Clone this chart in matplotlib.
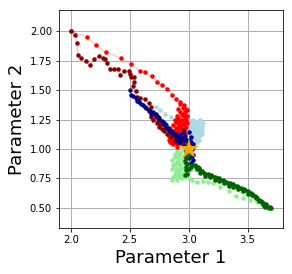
import matplotlib
matplotlib.use("Agg")
import matplotlib.pyplot as plt

# trajectories (parameter 1, parameter 2)
red_x = [2.00, 2.14, 2.21, 2.30, 2.43, 2.51, 2.59, 2.63, 2.69, 2.73, 2.77, 2.82, 2.86, 2.89,
         2.93, 2.95, 2.99, 2.96, 2.93, 2.90, 2.94, 2.97, 2.99, 2.95, 2.91, 2.88, 2.87, 2.90,
         2.93, 2.96, 2.98, 2.92, 2.88, 2.85, 2.83, 2.86, 2.89, 2.92, 2.95, 2.97, 2.94, 2.90,
         2.87, 2.84, 2.88, 2.92, 2.96, 2.99, 2.97, 2.94, 2.91, 2.89, 2.92, 2.95, 2.98, 2.96,
         2.93, 2.90, 2.87, 2.85, 2.83, 2.84, 2.86, 2.88, 2.91, 2.94, 2.97, 2.95, 2.92, 2.89,
         2.87, 2.89, 2.92, 2.95, 2.98, 2.96, 2.93, 2.91]
red_y = [2.00, 1.95, 1.88, 1.82, 1.77, 1.72, 1.66, 1.65, 1.62, 1.57, 1.54, 1.51, 1.46, 1.42,
         1.40, 1.35, 1.33, 1.29, 1.31, 1.28, 1.25, 1.27, 1.22, 1.20, 1.22, 1.25, 1.20, 1.16,
         1.18, 1.15, 1.19, 1.13, 1.10, 1.12, 1.08, 1.05, 1.07, 1.09, 1.11, 1.07, 1.04, 1.02,
         1.04, 1.10, 1.14, 1.20, 1.24, 1.28, 1.31, 1.29, 1.26, 1.23, 1.21, 1.23, 1.25, 1.22,
         1.19, 1.17, 1.15, 1.14, 1.11, 1.06, 1.09, 1.12, 1.15, 1.17, 1.13, 1.09, 1.06, 1.05,
         1.08, 1.18, 1.24, 1.30, 1.34, 1.37, 1.38, 1.34]

darkred_x = [2.00, 2.04, 2.05, 2.06, 2.09, 2.13, 2.16, 2.20, 2.24, 2.27, 2.29, 2.31, 2.33, 2.37,
             2.40, 2.42, 2.45, 2.49, 2.50, 2.51, 2.54, 2.54, 2.53, 2.55, 2.56, 2.59, 2.63, 2.66,
             2.68, 2.66, 2.71, 2.72, 2.68, 2.74, 2.76, 2.78, 2.81, 2.83, 2.86, 2.84, 2.88, 2.90,
             2.93, 2.96, 2.94, 2.91, 2.88, 2.85, 2.82, 2.79, 2.77, 2.75, 2.73, 2.70, 2.72, 2.75,
             2.78, 2.80, 2.83, 2.86, 2.89, 2.92]
darkred_y = [2.00, 1.97, 1.90, 1.80, 1.77, 1.75, 1.71, 1.76, 1.79, 1.77, 1.76, 1.73, 1.68, 1.68,
             1.68, 1.63, 1.66, 1.66, 1.64, 1.61, 1.61, 1.57, 1.53, 1.49, 1.44, 1.43, 1.42, 1.39,
             1.36, 1.32, 1.30, 1.27, 1.27, 1.23, 1.20, 1.21, 1.18, 1.15, 1.12, 1.17, 1.10, 1.08,
             1.13, 1.16, 1.08, 1.05, 1.07, 1.10, 1.13, 1.15, 1.17, 1.19, 1.22, 1.25, 1.28, 1.25,
             1.22, 1.19, 1.18, 1.15, 1.12, 1.10]

darkblue_x = [2.50, 2.51, 2.53, 2.55, 2.56, 2.58, 2.60, 2.61, 2.63, 2.64, 2.66, 2.67, 2.68, 2.70,
              2.72, 2.73, 2.74, 2.75, 2.77, 2.78, 2.79, 2.80, 2.81, 2.82, 2.83, 2.84, 2.85, 2.86,
              2.88, 2.89, 2.90, 2.92, 2.93, 2.95, 2.96, 2.98, 2.99, 3.01, 3.02, 3.04, 3.03, 3.01,
              3.04, 3.04, 3.02, 3.00, 3.03, 3.02, 3.04, 3.01, 2.98, 2.96, 2.93, 2.90, 2.92, 2.95,
              2.97, 3.00, 3.02]
darkblue_y = [1.50, 1.46, 1.45, 1.43, 1.41, 1.40, 1.38, 1.37, 1.36, 1.35, 1.33, 1.32, 1.30, 1.31,
              1.30, 1.28, 1.27, 1.26, 1.24, 1.23, 1.22, 1.21, 1.20, 1.18, 1.16, 1.15, 1.14, 1.14,
              1.13, 1.12, 1.10, 1.10, 1.09, 1.09, 1.08, 1.08, 1.08, 1.07, 1.06, 1.04, 1.00, 0.97,
              0.95, 0.91, 0.88, 0.92, 0.94, 0.99, 1.02, 1.05, 0.98, 1.03, 1.06, 1.08, 1.12, 1.14,
              1.11, 1.14, 1.10]

lightblue_x = [2.72, 2.76, 2.80, 2.85, 2.89, 2.93, 2.97, 3.01, 3.05, 3.08, 3.10, 3.11, 3.09, 3.10,
               3.08, 3.06, 3.04, 3.03, 3.06, 3.08, 3.07, 3.05, 3.03, 3.02, 2.99, 2.96, 2.92, 2.89,
               3.02, 3.04, 3.06, 3.08, 3.10, 3.12, 3.11, 3.09, 3.07, 3.05, 3.03, 3.01, 3.04, 3.06,
               3.08, 3.10, 3.09, 3.07, 3.05, 3.03, 3.05, 3.07, 3.09, 3.11, 3.08, 3.06, 3.04, 3.02]
lightblue_y = [1.36, 1.33, 1.30, 1.27, 1.25, 1.22, 1.20, 1.21, 1.23, 1.24, 1.22, 1.19, 1.16, 1.13,
               1.10, 1.12, 1.16, 1.20, 1.18, 1.14, 1.08, 1.05, 1.09, 1.14, 1.17, 1.19, 1.17, 1.20,
               1.24, 1.25, 1.22, 1.21, 1.25, 1.22, 1.16, 1.18, 1.20, 1.19, 1.22, 1.18, 1.12, 1.15,
               1.17, 1.15, 1.11, 1.12, 1.09, 1.12, 1.14, 1.06, 1.08, 1.13, 1.18, 1.21, 1.24, 1.17]

lightgreen_x = [3.69, 3.67, 3.62, 3.58, 3.52, 3.46, 3.40, 3.34, 3.27, 3.21, 3.16, 3.12, 3.07, 3.03,
                3.00, 2.98, 2.96, 2.93, 2.90, 2.86, 2.87, 2.89, 2.86, 2.88, 2.86, 2.88, 2.92, 2.95,
                2.91, 2.89, 2.93, 2.90, 2.92, 2.94, 2.96, 2.94, 2.91, 2.88, 2.87, 2.90, 2.93, 2.95,
                2.97, 2.95, 2.92, 2.89, 2.91, 2.94, 2.96, 2.93, 2.90, 2.88, 2.91, 2.94]
lightgreen_y = [0.50, 0.51, 0.53, 0.55, 0.57, 0.58, 0.60, 0.64, 0.68, 0.71, 0.72, 0.73, 0.72, 0.74,
                0.75, 0.76, 0.80, 0.77, 0.74, 0.74, 0.76, 0.80, 0.83, 0.87, 0.91, 0.96, 0.97, 0.99,
                0.90, 0.84, 0.86, 0.93, 0.95, 0.92, 0.88, 0.84, 0.80, 0.78, 0.86, 0.89, 0.82, 0.78,
                0.84, 0.91, 0.88, 0.81, 0.77, 0.79, 0.94, 0.97, 0.98, 0.93, 0.83, 0.75]

darkgreen_x = [3.70, 3.68, 3.67, 3.65, 3.64, 3.63, 3.62, 3.61, 3.60, 3.58, 3.57, 3.56, 3.55, 3.54,
               3.53, 3.51, 3.50, 3.48, 3.47, 3.45, 3.44, 3.42, 3.41, 3.39, 3.38, 3.36, 3.35, 3.33,
               3.32, 3.30, 3.29, 3.27, 3.26, 3.24, 3.22, 3.20, 3.19, 3.17, 3.16, 3.14, 3.13, 3.11,
               3.10, 3.09, 3.08, 3.06, 3.05, 3.03, 3.02, 3.00, 2.99, 2.98, 2.99, 2.98, 2.99, 2.98,
               2.99, 3.00, 2.98, 2.97, 2.98, 3.69, 3.66, 3.63, 3.60, 3.57, 3.54, 3.50, 3.46, 3.42,
               3.38, 3.34, 3.30, 3.26, 3.22, 3.18, 3.14, 3.10, 3.07, 2.97, 2.98, 2.99]
darkgreen_y = [0.50, 0.50, 0.51, 0.51, 0.52, 0.54, 0.55, 0.56, 0.57, 0.58, 0.59, 0.60, 0.61, 0.62,
               0.63, 0.63, 0.64, 0.65, 0.66, 0.66, 0.67, 0.68, 0.69, 0.69, 0.70, 0.70, 0.71, 0.71,
               0.72, 0.73, 0.74, 0.74, 0.75, 0.75, 0.76, 0.77, 0.78, 0.78, 0.79, 0.79, 0.80, 0.81,
               0.82, 0.84, 0.85, 0.85, 0.86, 0.86, 0.85, 0.83, 0.79, 0.82, 0.87, 0.92, 0.97, 1.02,
               1.04, 0.95, 0.88, 0.90, 0.85, 0.51, 0.53, 0.53, 0.56, 0.58, 0.61, 0.62, 0.64, 0.66,
               0.68, 0.69, 0.71, 0.73, 0.74, 0.76, 0.77, 0.80, 0.83, 0.78, 0.94, 1.00]

target = (3.0, 1.0)

series = [
    (lightblue_x, lightblue_y, "lightblue"),
    (lightgreen_x, lightgreen_y, "lightgreen"),
    (red_x, red_y, "red"),
    (darkred_x, darkred_y, "darkred"),
    (darkblue_x, darkblue_y, "darkblue"),
    (darkgreen_x, darkgreen_y, "darkgreen"),
]

fig = plt.figure(figsize=(292 / 72, 274 / 72), dpi=72)
ax = fig.add_axes([0.202, 0.168, 0.767, 0.796])

for xs, ys, c in series:
    ax.plot(xs, ys, "-", color=c, alpha=0.2, lw=1.5, zorder=2)
    ax.plot(xs, ys, "o", color=c, markersize=4.5, markeredgewidth=0, zorder=3)

ax.plot(*target, marker="*", color="orange", markersize=22, markeredgewidth=0, zorder=5)

ax.set_xlim(1.90, 3.80)
ax.set_ylim(0.33, 2.18)
ax.set_xticks([2.0, 2.5, 3.0, 3.5])
ax.set_yticks([0.5, 0.75, 1.0, 1.25, 1.5, 1.75, 2.0])
ax.tick_params(labelsize=10)
ax.grid(True, color="#b0b0b0", lw=1)
ax.set_axisbelow(True)
ax.set_xlabel("Parameter 1", fontsize=18)
ax.set_ylabel("Parameter 2", fontsize=18)

fig.savefig("out.png", dpi=72)
